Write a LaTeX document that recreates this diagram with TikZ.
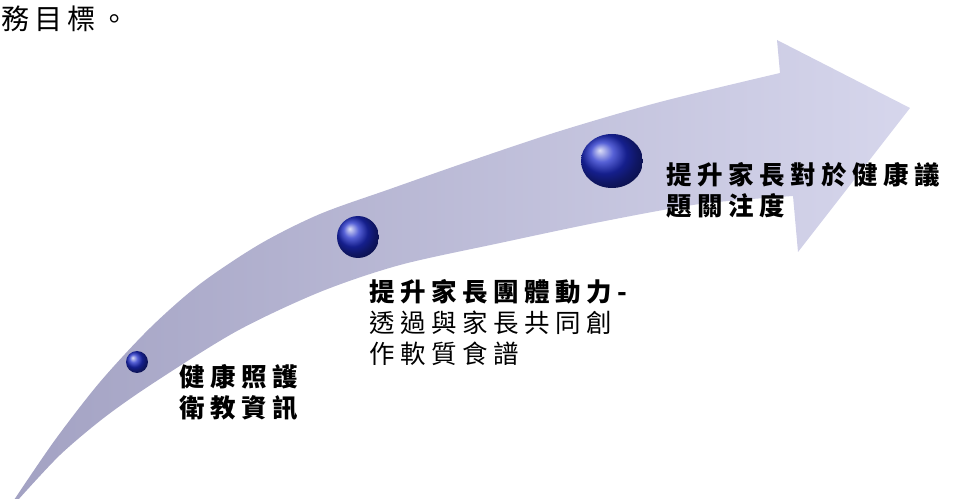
\documentclass[tikz,border=0pt]{standalone}
\usepackage{fontspec}
\newfontfamily\cjk[LetterSpace=22]{Noto Sans CJK TC}
\newfontfamily\cjkgross[LetterSpace=18]{Noto Sans CJK TC}
\usetikzlibrary{shapes.geometric}
\definecolor{pfeildunkel}{HTML}{A3A2C3}
\definecolor{pfeilhell}{HTML}{D6D6EC}
\definecolor{knopfblau}{HTML}{1E2CC8}
\tikzset{
  etikett/.style={anchor=north west, inner sep=0pt, align=left,
    font=\cjk\fontsize{14.5pt}{17.6pt}\selectfont},
  knopf/.style={circle, inner sep=0pt, ball color=knopfblau},
}
\begin{document}
\begin{tikzpicture}[x=0.02cm,y=-0.02cm]
    \useasboundingbox (0,0) rectangle (954,499);
    % Pfeil
    \shade[left color=pfeildunkel, right color=pfeilhell]
      plot[smooth] coordinates {(14,500) (55,440) (100,382) (150,328) (200,284)
        (260,244) (320,214) (390,189) (470,161) (560,131) (660,102) (780,73)}
      -- (777,40) -- (910,108) -- (798,252)
      -- plot[smooth] coordinates {(793,196) (700,204) (600,222) (500,243) (400,265)
        (320,292) (237,331) (155,382) (105,417) (60,455) (18,500)}
      -- cycle;
    %
    \node[knopf, minimum size=0.44cm] (Punkt1) at (137,362) {};
    \node[knopf, minimum size=0.84cm] (Punkt2) at (358,237) {};
    \node[knopf, ellipse, minimum width=1.24cm, minimum height=1.08cm] (Punkt3) at (612,161) {};
    %
    \node[anchor=north west, inner sep=0pt, font=\cjkgross\fontsize{16pt}{18pt}\selectfont] (Ziel) at (1,6) {務目標。};
    \node[etikett] (Huli) at (179,364) {\bfseries 健康照護\\\bfseries 衛教資訊};
    \node[etikett] (Tuanti) at (369,279) {\bfseries 提升家長團體動力-\\透過與家長共同創\\作軟質食譜};
    \node[etikett] (Guanzhu) at (666,162) {\bfseries 提升家長對於健康議\\\bfseries 題關注度};
\end{tikzpicture}
\end{document}
